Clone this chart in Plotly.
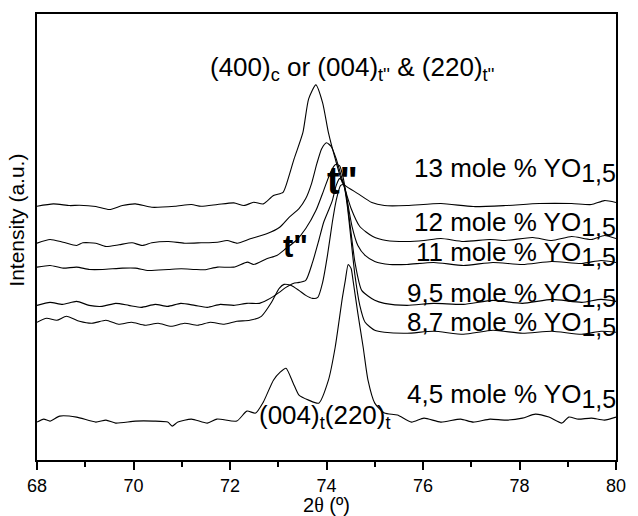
import plotly.graph_objects as go

# XRD patterns (stacked, arbitrary units) of the (400)c / (004)t-(220)t region
tt_13 = [68.00, 68.34, 68.68, 68.88, 69.22, 69.50, 69.77, 70.04, 70.38, 70.86, 71.20, 71.40, 71.74, 72.08,
         72.29, 72.49, 72.69, 72.90, 73.10, 73.16, 73.33, 73.51, 73.63, 73.78, 73.92, 74.04, 74.18, 74.33,
         74.39, 74.65, 74.94, 75.20, 75.67, 76.37, 77.04, 77.71, 78.41, 79.08, 79.49, 79.76, 80.00]
int_13 = [254.3, 256.7, 255, 255.3, 254, 251, 255, 256.7, 253.3, 254.3, 256, 254.3, 256, 257.7,
          255, 258.3, 256.7, 265, 268.3, 275, 302, 328, 362, 376, 358, 328, 302, 278,
          275, 267, 258, 255, 255, 257, 254, 255, 257, 257, 256, 260, 258]

tt_12 = [68.00, 68.27, 68.54, 68.82, 68.95, 69.22, 69.43, 69.70, 69.97, 70.18, 70.38, 70.72, 71.06, 71.40,
         71.74, 71.94, 72.15, 72.42, 72.76, 73.03, 73.22, 73.43, 73.57, 73.69, 73.80, 73.90, 74.00, 74.10,
         74.20, 74.35, 74.51, 74.69, 74.96, 75.24, 75.67, 76.02, 76.37, 76.84, 77.39, 77.71, 78.27, 78.67,
         79.08, 79.49, 79.76, 80.00]
int_12 = [217.3, 221, 218.3, 215, 217.7, 217.3, 214, 215.7, 217.7, 215, 217.7, 219, 217.3, 217.7,
          218.3, 220, 217.3, 221.7, 226.7, 233.3, 243, 252, 262, 277, 297, 312, 318, 314,
          302, 277, 252, 234, 224, 220, 219, 220, 222, 219, 221, 220, 223, 220,
          224, 221, 225, 222]

tt_11 = [68.00, 68.27, 68.54, 68.82, 69.09, 69.36, 69.77, 70.04, 70.31, 70.72, 70.99, 71.27, 71.47, 71.74,
         72.08, 72.36, 72.49, 72.76, 72.97, 73.16, 73.37, 73.57, 73.78, 73.94, 74.08, 74.18, 74.27, 74.35,
         74.43, 74.53, 74.65, 74.80, 75.00, 75.31, 75.67, 76.22, 76.84, 77.45, 78.06, 78.67, 79.29, 79.69, 80.00]
int_11 = [193.3, 195, 192.3, 193.3, 191, 191, 192.3, 192.3, 190, 191, 191.7, 191, 190.7, 193.3,
          193.3, 198.3, 196, 201.7, 205, 212, 220, 232, 250, 270, 288, 296, 295, 282,
          260, 234, 215, 205, 199, 196, 196, 198, 195, 198, 196, 199, 197, 200, 198]

tt_95 = [68.00, 68.27, 68.53, 68.82, 69.08, 69.35, 69.63, 69.90, 70.16, 70.45, 70.71, 70.98, 71.27, 71.53,
         71.80, 72.08, 72.35, 72.61, 72.76, 72.90, 73.02, 73.16, 73.31, 73.43, 73.57, 73.71, 73.84, 73.94,
         74.04, 74.12, 74.20, 74.27, 74.33, 74.41, 74.49, 74.59, 74.73, 75.00, 75.20, 75.67, 76.22, 76.84,
         77.45, 78.06, 78.67, 79.29, 79.69, 80.00]
int_95 = [155, 158, 156, 159, 155, 154, 157, 155, 153, 156, 154, 157, 155, 153,
          156, 155, 157, 157, 160, 164, 168, 173, 177, 178, 180, 198, 220, 238,
          250, 260, 275, 282, 280, 265, 235, 198, 170, 160, 157, 155, 157, 156,
          160, 157, 161, 158, 161, 159]

tt_87 = [68.00, 68.20, 68.41, 68.61, 68.88, 69.14, 69.43, 69.69, 69.96, 70.24, 70.51, 70.78, 71.06, 71.33,
         71.59, 71.88, 72.14, 72.41, 72.65, 72.86, 73.02, 73.12, 73.27, 73.43, 73.57, 73.71, 73.82, 73.92,
         74.02, 74.12, 74.20, 74.29, 74.35, 74.43, 74.51, 74.59, 74.69, 74.80, 75.00, 75.20, 75.67, 76.22,
         76.84, 77.45, 78.06, 78.67, 79.29, 79.69, 80.00]
int_87 = [138, 142, 140, 144, 139, 137, 140, 136, 138, 135, 137, 134, 137, 135,
          138, 136, 139, 140, 144, 158, 172, 176, 175, 170, 165, 162, 163, 178,
          205, 238, 260, 275, 276, 255, 220, 185, 155, 138, 130, 128, 127, 129,
          126, 130, 127, 129, 126, 129, 128]

tt_45 = [68.00, 68.14, 68.27, 68.47, 68.82, 69.22, 69.43, 69.63, 70.04, 70.41, 70.71, 70.80, 70.92, 71.20,
         71.53, 71.73, 72.14, 72.35, 72.53, 72.69, 72.90, 73.04, 73.16, 73.31, 73.43, 73.63, 73.84, 74.04,
         74.18, 74.33, 74.39, 74.45, 74.51, 74.55, 74.65, 74.76, 74.86, 75.00, 75.20, 75.47, 75.76, 76.02,
         76.37, 76.78, 77.04, 77.39, 77.71, 78.06, 78.33, 78.61, 78.88, 79.02, 79.22, 79.49, 79.76, 80.00]
int_45 = [38, 41, 39, 44, 43, 38, 40, 37, 39, 39, 38, 34, 38, 41,
          37, 41, 39, 49, 47, 58, 80, 88, 92, 77, 65, 60, 57, 80,
          113, 163, 180, 196, 192, 180, 147, 113, 80, 57, 47, 45, 38, 42,
          38, 41, 38, 41, 40, 42, 46, 43, 37, 43, 41, 42, 40, 43]

patterns = [
    ("13 mole % YO1,5", tt_13, int_13),
    ("12 mole % YO1,5", tt_12, int_12),
    ("11 mole % YO1,5", tt_11, int_11),
    ("9,5 mole % YO1,5", tt_95, int_95),
    ("8,7 mole % YO1,5", tt_87, int_87),
    ("4,5 mole % YO1,5", tt_45, int_45),
]

# composition labels: (prefix, label height in a.u.)
composition_labels = [("13", 291), ("12", 237), ("11", 206), ("9,5", 165), ("8,7", 136), ("4,5", 64)]

FONT = "Liberation Sans, Arial, sans-serif"

fig = go.Figure()
for name, tt, inten in patterns:
    fig.add_trace(go.Scatter(
        x=tt, y=inten, mode="lines", name=name,
        line=dict(color="black", width=1.1, shape="spline", smoothing=0.6),
        showlegend=False, hoverinfo="skip",
    ))


def sub(s, size):
    return "<sub><span style='font-size:%dpx'>%s</span></sub>" % (size, s)


ann = []
for comp, level in composition_labels:
    ann.append(dict(x=1.004, y=level, xref="paper", yref="y", xanchor="right", yanchor="middle",
                    text=comp + " mole % YO" + sub("1,5", 25), showarrow=False,
                    font=dict(size=26, color="black", family=FONT)))

ann.append(dict(x=71.55, y=392, xref="x", yref="y", xanchor="left", yanchor="middle",
                text="(400)<sub>c</sub> or (004)<sub>t''</sub> &amp; (220)<sub>t''</sub>",
                showarrow=False, font=dict(size=26, color="black", family=FONT)))
ann.append(dict(x=74.33, y=280, xref="x", yref="y", xanchor="center", yanchor="middle",
                text="<b>t\"</b>", showarrow=False, font=dict(size=38, color="black", family=FONT)))
ann.append(dict(x=73.36, y=214, xref="x", yref="y", xanchor="center", yanchor="middle",
                text="<b>t\"</b>", showarrow=False, font=dict(size=31, color="black", family=FONT)))
ann.append(dict(x=72.55, y=44, xref="x", yref="y", xanchor="left", yanchor="middle",
                text="(004)<sub>t</sub>(220)<sub>t</sub>", showarrow=False,
                font=dict(size=26, color="black", family=FONT)))

# axis titles
ann.append(dict(x=-0.036, y=0.537, xref="paper", yref="paper", xanchor="center", yanchor="middle",
                text="Intensity (a.u.)", textangle=-90, showarrow=False,
                font=dict(size=21, color="black", family=FONT)))
ann.append(dict(x=0.5, y=-0.101, xref="paper", yref="paper", xanchor="center", yanchor="middle",
                text="2<span style='font-family:Liberation Serif, serif'>θ</span> (º)",
                showarrow=False, font=dict(size=20, color="black", family=FONT)))

fig.update_layout(
    width=638, height=516,
    margin=dict(l=37, r=13, t=13, b=56),
    paper_bgcolor="white", plot_bgcolor="white",
    annotations=ann,
    font=dict(family=FONT, color="black"),
)
fig.update_xaxes(
    range=[68, 80], tickvals=[68, 70, 72, 74, 76, 78, 80],
    ticks="outside", ticklen=8, tickwidth=1.5, tickcolor="black",
    minor=dict(dtick=1, tick0=68, ticks="outside", ticklen=5, tickwidth=1.5, tickcolor="black"),
    showline=True, linecolor="black", linewidth=2, mirror=True,
    showgrid=False, zeroline=False, tickfont=dict(size=18, family=FONT, color="black"),
)
fig.update_yaxes(
    range=[0, 447], showticklabels=False, ticks="",
    showline=True, linecolor="black", linewidth=2, mirror=True,
    showgrid=False, zeroline=False,
)

fig.write_html("out.html")
